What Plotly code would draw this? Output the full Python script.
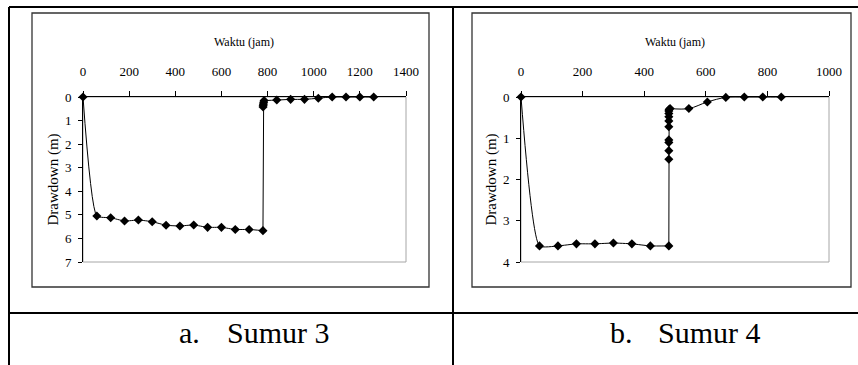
import plotly.graph_objects as go

W, H = 858, 365

# ---- data ----
waktu_3 = [0, 60, 120, 180, 240, 300, 360, 420, 480, 540, 600, 660, 720, 780,
           780.5, 781, 782, 783, 785, 840, 900, 960, 1020, 1080, 1140, 1200, 1260]
drawdown_3 = [0, 5.05, 5.12, 5.26, 5.22, 5.29, 5.44, 5.47, 5.43, 5.53, 5.53, 5.62, 5.62, 5.67,
              0.42, 0.35, 0.30, 0.22, 0.15, 0.13, 0.10, 0.10, 0.05, 0.0, 0.0, 0.0, 0.0]

waktu_4 = [0, 60, 120, 180, 240, 300, 360, 420, 480,
           480, 480, 480, 480, 480, 480, 480, 480, 480, 481, 484,
           545, 605, 665, 725, 785, 845]
drawdown_4 = [0, 3.61, 3.61, 3.56, 3.56, 3.54, 3.56, 3.61, 3.61,
              1.51, 1.30, 1.10, 1.04, 0.72, 0.58, 0.48, 0.40, 0.34, 0.30, 0.28,
              0.28, 0.12, 0.01, 0.0, 0.0, 0.0]

# index where pumping ends / where recovery cluster ends (segment split points)
split_3 = (13, 18)
split_4 = (8, 19)

x_ticks_3 = [0, 200, 400, 600, 800, 1000, 1200, 1400]
y_ticks_3 = [0, 1, 2, 3, 4, 5, 6, 7]
x_ticks_4 = [0, 200, 400, 600, 800, 1000]
y_ticks_4 = [0, 1, 2, 3, 4]

x_title = "Waktu (jam)"
y_title = "Drawdown (m)"
captions = [("a.", "Sumur 3"), ("b.", "Sumur 4")]

FONT = "Liberation Serif"


def px(p):
    return p / W


def py(p):
    return 1 - p / H


fig = go.Figure()

marker_style = dict(symbol="diamond", size=7, color="black")


def add_series(xs, ys, split, xa, ya):
    a, b = split
    segs = [(0, a + 1, "spline", 0.5), (a, b + 1, "linear", 0), (b, len(xs), "spline", 1)]
    for s, e, shape, sm in segs:
        line = dict(color="black", width=1, shape=shape)
        if shape == "spline":
            line["smoothing"] = sm
        fig.add_trace(go.Scatter(x=xs[s:e], y=ys[s:e], mode="lines", line=line,
                                 cliponaxis=False, xaxis=xa, yaxis=ya, showlegend=False,
                                 hoverinfo="skip"))
    fig.add_trace(go.Scatter(x=xs, y=ys, mode="markers", marker=marker_style,
                             cliponaxis=False, xaxis=xa, yaxis=ya, showlegend=False))


add_series(waktu_3, drawdown_3, split_3, "x", "y")
add_series(waktu_4, drawdown_4, split_4, "x2", "y2")

# plot-area pixel geometry
areas = [
    dict(x0=83, x1=406, y0=97, y1=262),
    dict(x0=521, x1=829, y0=97, y1=262),
]

common_x = dict(side="top", ticks="outside", ticklen=5, tickcolor="black",
                showline=True, linecolor="black", linewidth=1, showgrid=False,
                zeroline=False, tickfont=dict(family=FONT, size=13, color="black"),
                ticklabelstandoff=10, automargin=False)
common_y = dict(ticks="outside", ticklen=4, tickcolor="black",
                showline=True, linecolor="black", linewidth=1, showgrid=False,
                zeroline=False, tickfont=dict(family=FONT, size=13, color="black"),
                ticklabelstandoff=4, automargin=False)

fig.update_layout(
    xaxis=dict(domain=[px(areas[0]["x0"]), px(areas[0]["x1"])], range=[0, 1400],
               tickvals=x_ticks_3, anchor="y", **common_x),
    yaxis=dict(domain=[py(areas[0]["y1"]), py(areas[0]["y0"])], range=[7, 0],
               tickvals=y_ticks_3, anchor="x", **common_y),
    xaxis2=dict(domain=[px(areas[1]["x0"]), px(areas[1]["x1"])], range=[0, 1000],
                tickvals=x_ticks_4, anchor="y2", **common_x),
    yaxis2=dict(domain=[py(areas[1]["y1"]), py(areas[1]["y0"])], range=[4, 0],
                tickvals=y_ticks_4, anchor="x2", **common_y),
)

shapes = []
annotations = []

# gray plot-area borders (right & bottom visible as gray)
for a in areas:
    shapes.append(dict(type="rect", xref="paper", yref="paper",
                       x0=px(a["x0"]), x1=px(a["x1"]), y0=py(a["y1"]), y1=py(a["y0"]),
                       line=dict(color="#a6a6a6", width=1), layer="below"))

# chart boxes
for (x0, x1) in [(32, 429), (472, 851)]:
    shapes.append(dict(type="rect", xref="paper", yref="paper",
                       x0=px(x0), x1=px(x1), y0=py(287), y1=py(13),
                       line=dict(color="#333333", width=1.3)))

# table lines
tbl = dict(color="black", width=2)
shapes.append(dict(type="line", xref="paper", yref="paper", x0=px(9), x1=1, y0=py(7), y1=py(7), line=tbl))
shapes.append(dict(type="line", xref="paper", yref="paper", x0=px(9), x1=px(9), y0=py(7), y1=0, line=tbl))
shapes.append(dict(type="line", xref="paper", yref="paper", x0=px(453), x1=px(453), y0=py(7), y1=0, line=tbl))
shapes.append(dict(type="line", xref="paper", yref="paper", x0=px(9), x1=1, y0=py(313), y1=py(313), line=tbl))

# axis titles
for a, ytx in zip(areas, [53, 491]):
    annotations.append(dict(text=x_title, xref="paper", yref="paper",
                            x=px((a["x0"] + a["x1"]) / 2), y=py(42),
                            xanchor="center", yanchor="middle", showarrow=False,
                            font=dict(family=FONT, size=12, color="black")))
    annotations.append(dict(text=y_title, xref="paper", yref="paper",
                            x=px(ytx), y=py((a["y0"] + a["y1"]) / 2), textangle=-90,
                            xanchor="center", yanchor="middle", showarrow=False,
                            font=dict(family=FONT, size=15, color="black")))

# captions
for (lab, name), (xl, xn) in zip(captions, [(177, 225), (608, 656)]):
    annotations.append(dict(text=lab, xref="paper", yref="paper", x=px(xl), y=py(332),
                            xanchor="left", yanchor="middle", showarrow=False,
                            font=dict(family=FONT, size=30, color="black")))
    annotations.append(dict(text=name, xref="paper", yref="paper", x=px(xn), y=py(332),
                            xanchor="left", yanchor="middle", showarrow=False,
                            font=dict(family=FONT, size=30, color="black")))

fig.update_layout(width=W, height=H, margin=dict(l=0, r=0, t=0, b=0, pad=0),
                  autosize=False,
                  paper_bgcolor="white", plot_bgcolor="white",
                  shapes=shapes, annotations=annotations, showlegend=False)

fig.write_html("out.html", config={"displayModeBar": False},
               post_script="document.body.style.margin='0';document.body.style.overflow='hidden';")
